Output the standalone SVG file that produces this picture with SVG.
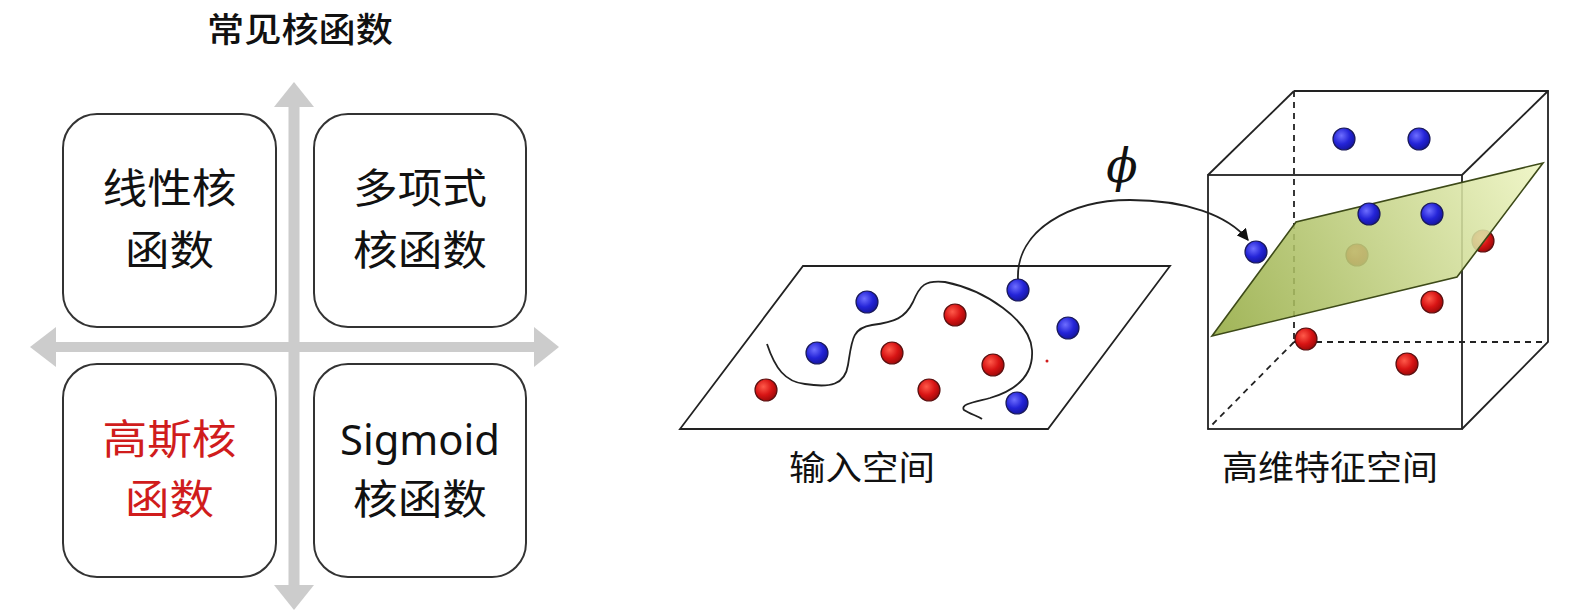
<svg xmlns="http://www.w3.org/2000/svg" width="1591" height="612" viewBox="0 0 1591 612">
<style>
  .txt { font-family: "Noto Sans", "Noto Sans CJK SC", sans-serif; fill: #111; }
  .box { fill: #fff; stroke: #333; stroke-width: 2; }
  .axis { fill: #cccccc; }
  .edge { fill: none; stroke: #222; stroke-width: 1.8; }
  .dash { fill: none; stroke: #222; stroke-width: 1.8; stroke-dasharray: 6 5; }
  .b { fill: url(#gBlue); stroke: #1a1a5a; stroke-width: 1.2; }
  .r { fill: url(#gRed); stroke: #5a1010; stroke-width: 1.2; }
</style>
<defs>
  <radialGradient id="gBlue" cx="0.38" cy="0.35" r="0.7">
    <stop offset="0" stop-color="#6e6eff"/>
    <stop offset="0.55" stop-color="#2424d8"/>
    <stop offset="1" stop-color="#14149a"/>
  </radialGradient>
  <radialGradient id="gRed" cx="0.38" cy="0.35" r="0.7">
    <stop offset="0" stop-color="#ff5a4a"/>
    <stop offset="0.55" stop-color="#d81414"/>
    <stop offset="1" stop-color="#980808"/>
  </radialGradient>
  <linearGradient id="gPlane" x1="1212" y1="336" x2="1543" y2="163" gradientUnits="userSpaceOnUse">
    <stop offset="0" stop-color="#93aa40"/>
    <stop offset="1" stop-color="#eef5c2"/>
  </linearGradient>
  <marker id="arr" viewBox="0 0 10 10" refX="9" refY="5" markerWidth="12" markerHeight="12" markerUnits="userSpaceOnUse" orient="auto">
    <path d="M0,0 L10,5 L0,10 z" fill="#111"/>
  </marker>
</defs>
<rect width="1591" height="612" fill="#fff"/>

<!-- Left: kernel function quadrants -->
<g id="title">
  <text class="txt" x="300" y="42" font-size="34" font-weight="500" text-anchor="middle" textLength="186" lengthAdjust="spacingAndGlyphs">常见核函数</text>
</g>
<g id="axes">
  <rect class="axis" x="288.5" y="105" width="11" height="482"/>
  <polygon class="axis" points="294,82 314,107 274,107"/>
  <polygon class="axis" points="294,610 314,585 274,585"/>
  <rect class="axis" x="54" y="342" width="482" height="10"/>
  <polygon class="axis" points="30,347 56,327 56,367"/>
  <polygon class="axis" points="559,347 534,327 534,367"/>
</g>
<g id="linear">
  <rect class="box" x="63" y="114" width="213" height="213" rx="34"/>
  <text class="txt" x="169.5" y="203" font-size="41" text-anchor="middle" textLength="134" lengthAdjust="spacingAndGlyphs">线性核</text>
  <text class="txt" x="169.5" y="265" font-size="41" text-anchor="middle" textLength="89" lengthAdjust="spacingAndGlyphs">函数</text>
</g>
<g id="poly">
  <rect class="box" x="314" y="114" width="212" height="213" rx="34"/>
  <text class="txt" x="420" y="203" font-size="41" text-anchor="middle" textLength="134" lengthAdjust="spacingAndGlyphs">多项式</text>
  <text class="txt" x="420" y="265" font-size="41" text-anchor="middle" textLength="134" lengthAdjust="spacingAndGlyphs">核函数</text>
</g>
<g id="gauss">
  <rect class="box" x="63" y="364" width="213" height="213" rx="34"/>
  <text class="txt" x="169.5" y="454" font-size="41" text-anchor="middle" textLength="134" lengthAdjust="spacingAndGlyphs" style="fill:#d01c1c">高斯核</text>
  <text class="txt" x="169.5" y="514" font-size="41" text-anchor="middle" textLength="89" lengthAdjust="spacingAndGlyphs" style="fill:#d01c1c">函数</text>
</g>
<g id="sigmoid">
  <rect class="box" x="314" y="364" width="212" height="213" rx="34"/>
  <text class="txt" x="420" y="455" font-size="41" text-anchor="middle" textLength="160" lengthAdjust="spacingAndGlyphs">Sigmoid</text>
  <text class="txt" x="420" y="514" font-size="41" text-anchor="middle" textLength="134" lengthAdjust="spacingAndGlyphs">核函数</text>
</g>

<!-- Input space -->
<g id="input-space">
  <polygon class="edge" points="803,266 1170,266 1048,429 680,429"/>
  <path class="edge" d="M767,344 C775,368 785,382 805,384 C830,388 845,385 848,365 C852,340 852,328 872,325 C895,322 905,318 913,302 C920,285 925,280 945,282 C985,290 1030,320 1032,350 C1034,380 1010,392 990,398 C975,402 960,404 964,410 C970,414 978,416 982,419"/>
  <circle class="b" cx="867" cy="302" r="11"/>
  <circle class="b" cx="817" cy="353" r="11"/>
  <circle class="b" cx="1018" cy="290" r="11"/>
  <circle class="b" cx="1068" cy="328" r="11"/>
  <circle class="b" cx="1017" cy="403" r="11"/>
  <circle class="r" cx="766" cy="390" r="11"/>
  <circle class="r" cx="892" cy="353" r="11"/>
  <circle class="r" cx="955" cy="315" r="11"/>
  <circle class="r" cx="993" cy="365" r="11"/>
  <circle class="r" cx="929" cy="390" r="11"/>
  <circle cx="1047" cy="361" r="1.5" fill="#d01c1c"/>
  <text class="txt" x="862" y="480" font-size="34" text-anchor="middle" textLength="146" lengthAdjust="spacingAndGlyphs">输入空间</text>
</g>

<!-- Feature space cube -->
<g id="feature-space">
  <line class="dash" x1="1294" y1="91" x2="1294" y2="342"/>
  <line class="dash" x1="1294" y1="342" x2="1548" y2="342"/>
  <line class="dash" x1="1294" y1="342" x2="1208" y2="429"/>
  <polyline class="edge" points="1294,91 1548,91 1548,342 1462,429"/>
  <line class="edge" x1="1208" y1="175" x2="1294" y2="91"/>
  <line class="edge" x1="1462" y1="175" x2="1548" y2="91"/>
  <rect class="edge" x="1208" y="175" width="254" height="254"/>
  <circle class="r" cx="1483" cy="241" r="11"/>
  <circle class="r" cx="1357" cy="255" r="11"/>
  <polygon points="1212,336 1296,222 1543,163 1457,277" fill="url(#gPlane)" fill-opacity="0.88" stroke="#3d4a18" stroke-width="1.6"/>
  <circle class="b" cx="1344" cy="139" r="11"/>
  <circle class="b" cx="1419" cy="139" r="11"/>
  <circle class="b" cx="1369" cy="214" r="11"/>
  <circle class="b" cx="1432" cy="214" r="11"/>
  <circle class="b" cx="1256" cy="252" r="11"/>
  <circle class="r" cx="1432" cy="302" r="11"/>
  <circle class="r" cx="1306" cy="339" r="11"/>
  <circle class="r" cx="1407" cy="364" r="11"/>
  <text class="txt" x="1330" y="480" font-size="34" text-anchor="middle" textLength="216" lengthAdjust="spacingAndGlyphs">高维特征空间</text>
</g>

<g id="connectors">
  <path d="M1018,279 C1016,230 1070,200 1130,200 C1185,200 1228,215 1248,240" fill="none" stroke="#222" stroke-width="1.8" marker-end="url(#arr)"/>
  <text x="1122" y="182" font-family="'DejaVu Serif', 'Liberation Serif', serif" font-style="italic" font-size="46" text-anchor="middle" fill="#111">ϕ</text>
</g>
</svg>
